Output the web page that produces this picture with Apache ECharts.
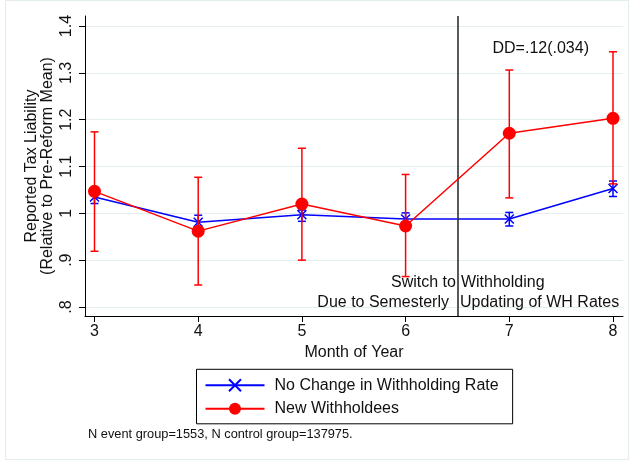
<!DOCTYPE html>
<html>
<head>
<meta charset="utf-8">
<script src="https://cdn.jsdelivr.net/npm/echarts@6/dist/echarts.min.js"></script>
<style>
  html, body { margin: 0; padding: 0; background: #fff; }
  #chart { width: 631px; height: 461px; }
</style>
</head>
<body>
<div id="chart"></div>
<script>
// Month of year on the x axis
const months = [3, 4, 5, 6, 7, 8];

// Control group: no change in withholding rate (mean and 95% CI)
const controlMean = [1.035, 0.981, 0.997, 0.988, 0.988, 1.053];
const controlLow  = [1.021, 0.966, 0.983, 0.975, 0.973, 1.036];
const controlHigh = [1.048, 0.996, 1.007, 1.001, 1.002, 1.069];

// Event group: new withholdees (mean and 95% CI)
const eventMean = [1.047, 0.962, 1.020, 0.973, 1.171, 1.203];
const eventLow  = [0.919, 0.847, 0.900, 0.865, 1.033, 1.063];
const eventHigh = [1.174, 1.077, 1.139, 1.083, 1.306, 1.345];

// Axis ticks
const xTicks = [3, 4, 5, 6, 7, 8];
const yTicks = [0.8, 0.9, 1.0, 1.1, 1.2, 1.3, 1.4];

// Reform date (between June and July)
const reformMonth = 6.5;

const seriesNames = ['No Change in Withholding Rate', 'New Withholdees'];

const FONT = "'Liberation Sans', Arial, Helvetica, sans-serif";
const BLUE = '#0000ff';
const RED = '#ff0000';

function yLabel(v) {
  const r = Math.round(v * 10) / 10;
  let s = String(r);
  if (s.startsWith('0.')) s = s.slice(1);
  return s;
}

function pairs(xs, ys) { return xs.map((x, i) => [x, ys[i]]); }
function ciRows(xs, lo, hi) { return xs.map((x, i) => [x, lo[i], hi[i]]); }

function errorBar(color) {
  return function (params, api) {
    const x = api.value(0);
    const lo = api.coord([x, api.value(1)]);
    const hi = api.coord([x, api.value(2)]);
    const cap = 4;
    const style = { stroke: color, lineWidth: 1.5 };
    return {
      type: 'group',
      children: [
        { type: 'line', shape: { x1: lo[0], y1: lo[1], x2: hi[0], y2: hi[1] }, style },
        { type: 'line', shape: { x1: lo[0] - cap, y1: lo[1], x2: lo[0] + cap, y2: lo[1] }, style },
        { type: 'line', shape: { x1: hi[0] - cap, y1: hi[1], x2: hi[0] + cap, y2: hi[1] }, style }
      ]
    };
  };
}

const textStyleBase = { fontFamily: FONT, fontSize: 16, fill: '#111' };

const chart = echarts.init(document.getElementById('chart'), null, { renderer: 'canvas' });

chart.setOption({
  backgroundColor: '#ffffff',
  animation: false,
  textStyle: { fontFamily: FONT },
  graphic: [{
    type: 'rect',
    silent: true,
    shape: { x: 5.5, y: 0.5, width: 623, height: 459 },
    style: { fill: 'none', stroke: '#e3ecef', lineWidth: 1 }
  }, {
    type: 'text',
    left: 88,
    top: 428,
    style: { text: 'N event group=1553, N control group=137975.', font: '12.8px ' + FONT, fill: '#111' }
  }],
  grid: { left: 85, top: 16, right: 8, bottom: 145, containLabel: false },
  legend: {
    orient: 'vertical',
    left: 196.5,
    top: 369.3,
    data: seriesNames,
    padding: [8, 14, 7, 8],
    itemWidth: 59,
    itemHeight: 15,
    itemGap: 7.5,
    borderColor: '#000',
    borderWidth: 1,
    textStyle: { fontFamily: FONT, fontSize: 16, color: '#111', padding: [0, 0, 0, 5] }
  },
  xAxis: {
    type: 'value',
    min: 2.9084,
    max: 8.0964,
    name: 'Month of Year',
    nameLocation: 'middle',
    nameGap: 29,
    nameMoveOverlap: false,
    nameTextStyle: { fontFamily: FONT, fontSize: 16, color: '#111' },
    axisLine: { show: true, lineStyle: { color: '#000', width: 1 } },
    axisTick: { show: true, length: 6, customValues: xTicks, lineStyle: { color: '#000' } },
    axisLabel: { customValues: xTicks, fontFamily: FONT, fontSize: 16, color: '#111', margin: 8 },
    splitLine: { show: false }
  },
  yAxis: {
    type: 'value',
    min: 0.7808,
    max: 1.4214,
    name: 'Reported Tax Liability\n(Relative to Pre-Reform Mean)',
    nameLocation: 'middle',
    nameRotate: 90,
    nameGap: 29,
    nameMoveOverlap: false,
    nameTextStyle: { fontFamily: FONT, fontSize: 16, lineHeight: 16, color: '#111' },
    axisLine: { show: true, lineStyle: { color: '#000', width: 1 } },
    axisTick: { show: true, length: 6, customValues: yTicks, lineStyle: { color: '#000' } },
    axisLabel: {
      customValues: yTicks,
      rotate: 90,
      formatter: yLabel,
      fontFamily: FONT, fontSize: 16, color: '#111', margin: 10
    },
    splitLine: { show: true, lineStyle: { color: '#e4eef0', width: 1 } }
  },
  series: [
    {
      name: 'controlCI',
      type: 'custom',
      renderItem: errorBar(BLUE),
      data: ciRows(months, controlLow, controlHigh),
      encode: { x: 0, y: [1, 2] },
      silent: true,
      z: 2
    },
    {
      name: seriesNames[0],
      type: 'line',
      data: pairs(months, controlMean),
      symbol: 'path://M0,0L10,10M0,10L10,0',
      symbolSize: 9,
      lineStyle: { color: BLUE, width: 1.5 },
      itemStyle: { color: BLUE, borderColor: BLUE, borderWidth: 1.5 },
      z: 3,
      markLine: {
        silent: true,
        symbol: 'none',
        label: { show: false },
        lineStyle: { color: '#303030', width: 1.6, type: 'solid' },
        data: [{ xAxis: reformMonth }]
      }
    },
    {
      name: 'eventCI',
      type: 'custom',
      renderItem: errorBar(RED),
      data: ciRows(months, eventLow, eventHigh),
      encode: { x: 0, y: [1, 2] },
      silent: true,
      z: 4
    },
    {
      name: seriesNames[1],
      type: 'line',
      data: pairs(months, eventMean),
      symbol: 'circle',
      symbolSize: 13,
      lineStyle: { color: RED, width: 1.5 },
      itemStyle: { color: RED },
      z: 5
    },
    {
      name: 'notes',
      type: 'custom',
      silent: true,
      z: 6,
      data: [[reformMonth, 0.8513]],
      renderItem: function (params, api) {
        const top = api.coord([api.value(0), api.value(1)]);
        const bottom = api.coord([api.value(0), 0.8085]);
        const dd = api.coord([7.303, 1.351]);
        return {
          type: 'group',
          children: [
            { type: 'text', style: Object.assign({ text: 'Switch to', x: top[0] - 1.5, y: top[1], align: 'right', verticalAlign: 'middle' }, textStyleBase) },
            { type: 'text', style: Object.assign({ text: 'Withholding', x: top[0] + 3.5, y: top[1], align: 'left', verticalAlign: 'middle' }, textStyleBase) },
            { type: 'text', style: Object.assign({ text: 'Due to Semesterly', x: bottom[0] - 8.5, y: bottom[1], align: 'right', verticalAlign: 'middle' }, textStyleBase) },
            { type: 'text', style: Object.assign({ text: 'Updating of WH Rates', x: bottom[0] + 2.5, y: bottom[1], align: 'left', verticalAlign: 'middle' }, textStyleBase) },
            { type: 'text', style: Object.assign({ text: 'DD=.12(.034)', x: dd[0], y: dd[1], align: 'center', verticalAlign: 'middle' }, textStyleBase) }
          ]
        };
      }
    }
  ]
});
</script>
</body>
</html>
